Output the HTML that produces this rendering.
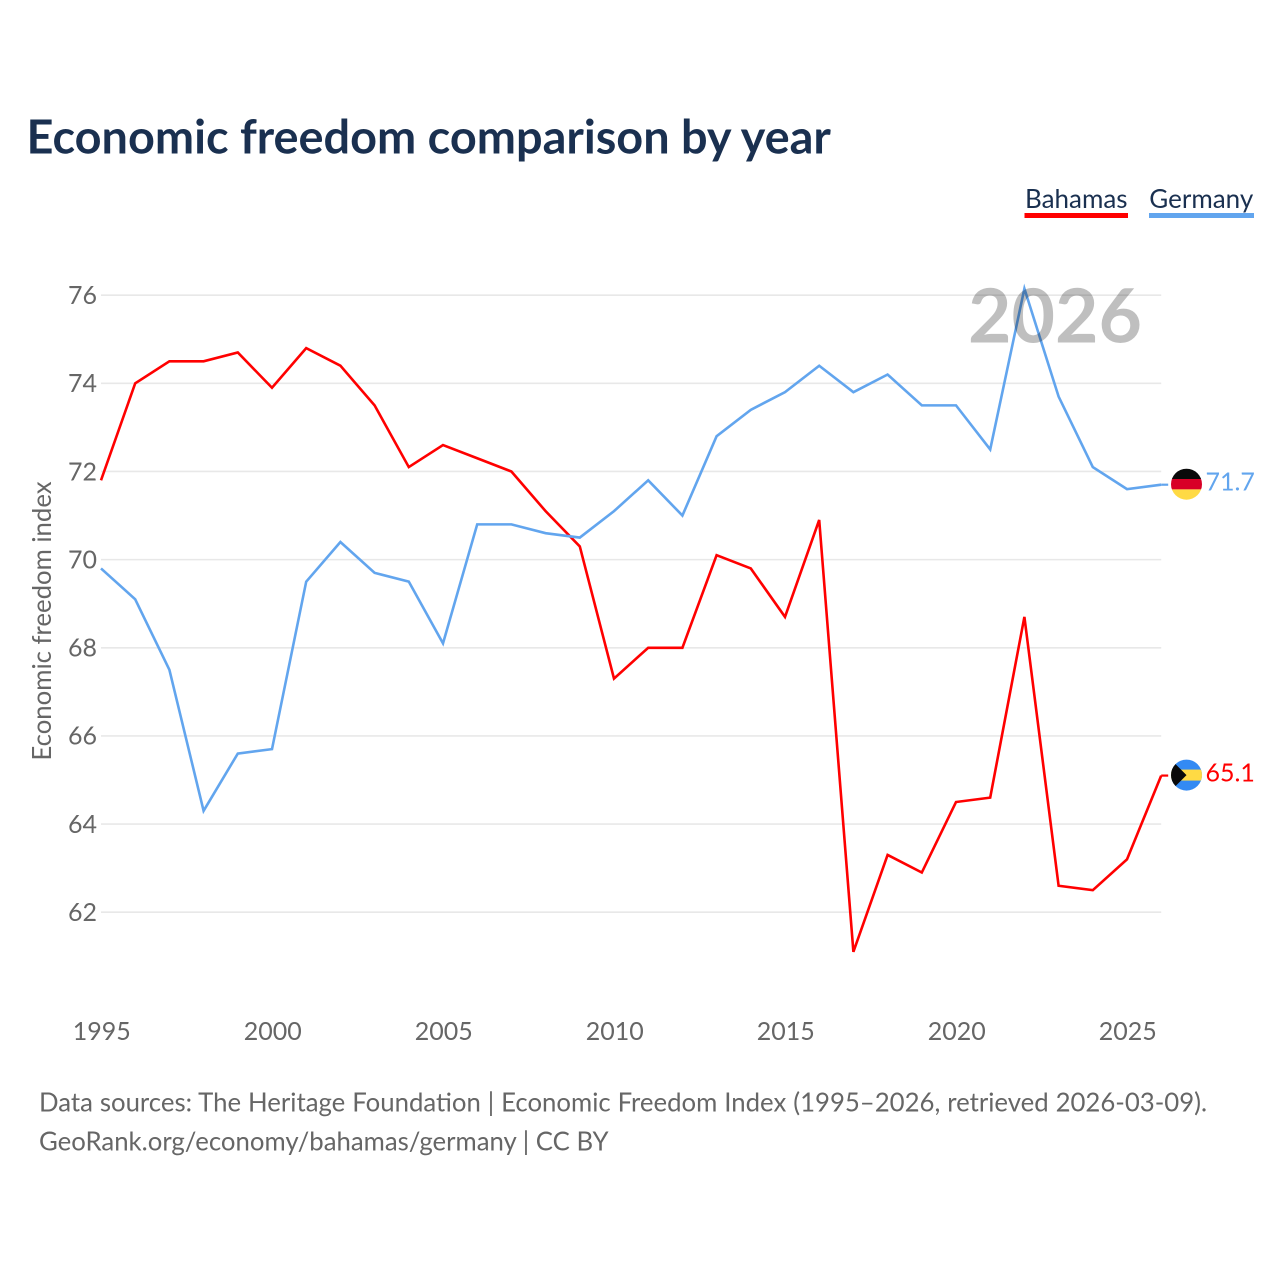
<!DOCTYPE html>
<html lang="en">
<head>
<meta charset="utf-8">
<title>Economic freedom comparison by year</title>
<style>
  html, body { margin: 0; padding: 0; background: #fff; width: 1280px; height: 1280px; overflow: hidden; }
  svg { display: block; font-family: "Lato", "Carlito", "Liberation Sans", sans-serif; }
</style>
</head>
<body>
<svg id="chart" xmlns="http://www.w3.org/2000/svg" width="1280" height="1280" viewBox="0 0 1280 1280">
  <defs>
    <clipPath id="flag-clip"><circle cx="0" cy="0" r="15.5"></circle></clipPath>
  </defs>
  <rect x="0" y="0" width="1280" height="1280" fill="#ffffff"></rect>
  <text x="26.5" y="153.5" font-size="46.85" font-weight="700" fill="#1a3050">Economic freedom comparison by year</text>

  <g>
    <text x="1025" y="208" font-size="26" fill="#1a3050">Bahamas</text>
    <rect x="1024.5" y="213" width="103.5" height="5" fill="#ff0000"></rect>
  </g>
  <g>
    <text x="1149.3" y="208" font-size="26" fill="#1a3050">Germany</text>
    <rect x="1149" y="213" width="105" height="5" fill="#62a5ee"></rect>
  </g>

  <g id="grid"></g>
  <g id="y-ticks"></g>
  <g id="x-ticks"></g>
  <text transform="translate(51 621) rotate(-90)" text-anchor="middle" font-size="25.75" fill="#666666">Economic freedom index</text>

  <g id="series"></g>

  <g id="flag-germany" clip-path="url(#flag-clip)">
    <rect x="-16" y="-16" width="32" height="10.8" fill="#0a0a0a"></rect>
    <rect x="-16" y="-5.2" width="32" height="10.4" fill="#d80027"></rect>
    <rect x="-16" y="5.2" width="32" height="10.8" fill="#ffda44"></rect>
  </g>
  <g id="flag-bahamas" clip-path="url(#flag-clip)">
    <rect x="-16" y="-16" width="32" height="32" fill="#338af3"></rect>
    <rect x="-16" y="-5.5" width="32" height="11" fill="#ffda44"></rect>
    <polygon points="-16,-16 0,0 -16,16" fill="#0a0a0a"></polygon>
  </g>
  <text id="value-germany" x="1205.5" font-size="25" fill="#62a5ee"></text>
  <text id="value-bahamas" x="1205.5" font-size="25" fill="#ff0000"></text>

  <text id="year-label" x="968" y="342.5" font-size="75" font-weight="700" fill="#000000" fill-opacity="0.25">2026</text>

  <text x="39" y="1111.5" font-size="25.75" word-spacing="0.33" fill="#666666">Data sources: The Heritage Foundation | Economic Freedom Index (1995–2026, retrieved 2026-03-09).</text>
  <text x="39" y="1150.5" font-size="25.75" fill="#666666">GeoRank.org/economy/bahamas/germany | CC BY</text>
</svg>
<script>
var years = [1995,1996,1997,1998,1999,2000,2001,2002,2003,2004,2005,2006,2007,2008,2009,2010,2011,2012,2013,2014,2015,2016,2017,2018,2019,2020,2021,2022,2023,2024,2025,2026];
var bahamasValues = [71.8,74.0,74.5,74.5,74.7,73.9,74.8,74.4,73.5,72.1,72.6,72.3,72.0,71.1,70.3,67.3,68.0,68.0,70.1,69.8,68.7,70.9,61.1,63.3,62.9,64.5,64.6,68.7,62.6,62.5,63.2,65.1];
var germanyValues = [69.8,69.1,67.5,64.3,65.6,65.7,69.5,70.4,69.7,69.5,68.1,70.8,70.8,70.6,70.5,71.1,71.8,71.0,72.8,73.4,73.8,74.4,73.8,74.2,73.5,73.5,72.5,76.15,73.7,72.1,71.6,71.7];
var yTickValues = [62,64,66,68,70,72,74,76];
var xTickValues = [1995,2000,2005,2010,2015,2020,2025];

var SVG_NS = 'http://www.w3.org/2000/svg';
var plotLeft = 101, plotRight = 1161.2;
var y76 = 295.2, y62 = 912.2;

function xScale(year) {
  return plotLeft + (year - years[0]) * (plotRight - plotLeft) / (years[years.length - 1] - years[0]);
}
function yScale(value) {
  return y62 + (value - 62) * (y76 - y62) / (76 - 62);
}
function make(tag, parent) {
  var el = document.createElementNS(SVG_NS, tag);
  parent.appendChild(el);
  return el;
}

var grid = document.getElementById('grid');
var yTicks = document.getElementById('y-ticks');
var xTicks = document.getElementById('x-ticks');
var series = document.getElementById('series');

yTickValues.forEach(function (v) {
  var line = make('line', grid);
  
  
  line.setAttribute('x1', plotLeft);
  line.setAttribute('x2', plotRight);
  line.setAttribute('y1', yScale(v));
  line.setAttribute('y2', yScale(v));
  line.setAttribute('stroke', '#e8e8e8');
  line.setAttribute('stroke-width', '1.6');

  var label = make('text', yTicks);
  
  
  label.setAttribute('x', 97);
  label.setAttribute('y', yScale(v) + 8.8);
  label.setAttribute('text-anchor', 'end');
  label.setAttribute('font-size', '25');
  label.setAttribute('fill', '#666666');
  label.textContent = v;
});

xTickValues.forEach(function (yr) {
  var label = make('text', xTicks);
  
  
  label.setAttribute('x', xScale(yr) + 0.8);
  label.setAttribute('y', 1040);
  label.setAttribute('text-anchor', 'middle');
  label.setAttribute('font-size', '25');
  label.setAttribute('fill', '#666666');
  label.textContent = yr;
});

function drawSeries(values, color, name) {
  var pts = values.map(function (v, i) { return xScale(years[i]).toFixed(2) + ',' + yScale(v).toFixed(2); });
  var line = make('polyline', series);
  
  
  line.setAttribute('points', pts.join(' '));
  line.setAttribute('fill', 'none');
  line.setAttribute('stroke', color);
  line.setAttribute('stroke-width', '2.6');
  line.setAttribute('stroke-linejoin', 'miter');

  var last = values[values.length - 1];
  var stub = make('line', series);
  
  
  stub.setAttribute('x1', plotRight);
  stub.setAttribute('x2', plotRight + 7);
  stub.setAttribute('y1', yScale(last));
  stub.setAttribute('y2', yScale(last));
  stub.setAttribute('stroke', color);
  stub.setAttribute('stroke-width', '2.2');

  document.getElementById('flag-' + name).setAttribute('transform', 'translate(1186.5 ' + (yScale(last) - 0.5) + ')');
  var val = document.getElementById('value-' + name);
  val.setAttribute('y', yScale(last) + 6);
  val.textContent = last.toFixed(1);
}

drawSeries(bahamasValues, '#ff0000', 'bahamas');
drawSeries(germanyValues, '#62a5ee', 'germany');
</script>
</body>
</html>
